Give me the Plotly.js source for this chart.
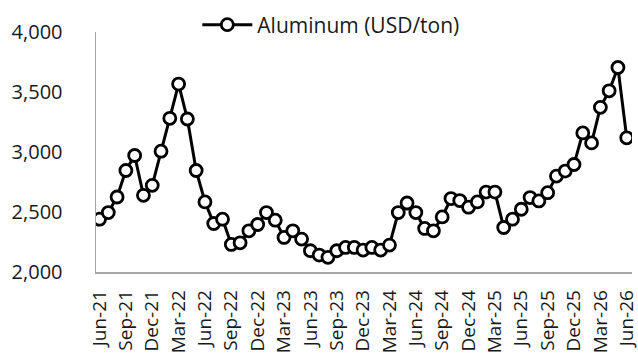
<!DOCTYPE html>
<html>
<head>
<meta charset="utf-8">
<script src="https://cdn.plot.ly/plotly-3.0.1.min.js"></script>
<style>html,body{margin:0;padding:0;background:#fff;}#chart{width:638px;height:353px;}</style>
</head>
<body>
<div id="chart"></div>
<script>
var months = [
  "Jun-21","Jul-21","Aug-21","Sep-21","Oct-21","Nov-21","Dec-21","Jan-22","Feb-22","Mar-22",
  "Apr-22","May-22","Jun-22","Jul-22","Aug-22","Sep-22","Oct-22","Nov-22","Dec-22","Jan-23",
  "Feb-23","Mar-23","Apr-23","May-23","Jun-23","Jul-23","Aug-23","Sep-23","Oct-23","Nov-23",
  "Dec-23","Jan-24","Feb-24","Mar-24","Apr-24","May-24","Jun-24","Jul-24","Aug-24","Sep-24",
  "Oct-24","Nov-24","Dec-24","Jan-25","Feb-25","Mar-25","Apr-25","May-25","Jun-25","Jul-25",
  "Aug-25","Sep-25","Oct-25","Nov-25","Dec-25","Jan-26","Feb-26","Mar-26","Apr-26","May-26",
  "Jun-26"
];
var aluminum = [
  2440, 2495, 2625, 2846, 2971, 2639, 2722, 3007, 3281, 3566,
  3275, 2846, 2584, 2404, 2440, 2230, 2243, 2343, 2396, 2495,
  2432, 2288, 2343, 2274, 2177, 2141, 2122, 2177, 2205, 2205,
  2183, 2205, 2183, 2224, 2495, 2575, 2495, 2363, 2343, 2459,
  2612, 2595, 2540, 2584, 2666, 2666, 2371, 2440, 2523, 2620,
  2592, 2661, 2799, 2841, 2896, 3159, 3076, 3372, 3510, 3704,
  3118
];
var tickLabels = months.filter(function(m, i){ return i % 3 === 0; });
var seriesName = "Aluminum (USD/ton)";

var FONT = "Open Sans, Liberation Sans, sans-serif";
var trace = {
  x: months,
  y: aluminum,
  type: "scatter",
  mode: "lines+markers",
  name: seriesName,
  line: {color: "#000000", width: 3},
  marker: {symbol: "circle", size: 12, color: "#ffffff", line: {color: "#000000", width: 2.8}},
  showlegend: true
};
var layout = {
  width: 638, height: 353,
  margin: {l: 96, r: 6, t: 31, b: 81, pad: 0},
  paper_bgcolor: "#ffffff",
  plot_bgcolor: "#ffffff",
  font: {family: FONT, size: 21, color: "#1a1a1a"},
  showlegend: true,
  legend: {
    orientation: "h",
    x: 0.189, xanchor: "left",
    y: 1.025, yanchor: "middle",
    font: {family: FONT, size: 21, color: "#1a1a1a"},
    bgcolor: "rgba(0,0,0,0)",
    itemwidth: 50
  },
  xaxis: {
    type: "category",
    range: [-0.4, 60.6],
    tickmode: "array",
    tickvals: tickLabels,
    ticktext: tickLabels,
    tickangle: -90,
    ticks: "",
    showgrid: false,
    zeroline: false,
    showline: true,
    linecolor: "#a6a6a6",
    linewidth: 1.5,
    tickfont: {family: FONT, size: 19, color: "#1a1a1a"},
    ticklabelstandoff: 9
  },
  yaxis: {
    range: [2000, 4000],
    tickmode: "linear",
    tick0: 2000,
    dtick: 500,
    tickformat: ",d",
    ticks: "",
    showgrid: false,
    zeroline: false,
    showline: true,
    linecolor: "#a6a6a6",
    linewidth: 1.5,
    tickfont: {family: FONT, size: 20, color: "#1a1a1a"},
    ticklabelstandoff: 28
  }
};
Plotly.newPlot("chart", [trace], layout, {displayModeBar: false, staticPlot: true});
</script>
</body>
</html>
